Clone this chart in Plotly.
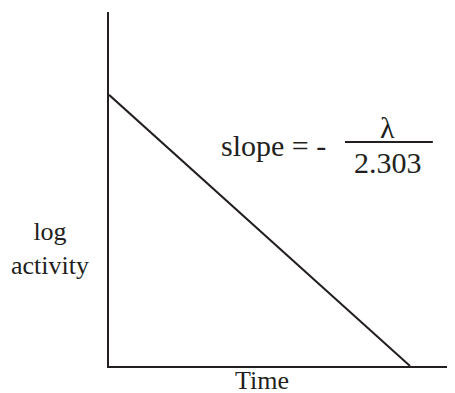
"""
log activity vs time: straight-line decay sketch
"""
import plotly.graph_objects as go

# data (arbitrary units)
time = [0.0, 8.7]
log_activity = [7.66, 0.0]

INK = "#231f20"
SERIF = "Liberation Serif, Times New Roman, serif"


def _font(size):
    return dict(family=SERIF, color=INK, size=size)


fig = go.Figure()
fig.add_trace(go.Scatter(
    x=time, y=log_activity, mode="lines",
    line=dict(color=INK, width=2), showlegend=False, hoverinfo="skip",
))

# slope label with a stacked fraction
fig.add_annotation(x=6.33, y=6.24, text="slope = -", xanchor="right",
                   yanchor="middle", showarrow=False, font=_font(30))
fig.add_annotation(x=8.06, y=6.75, text="λ", xanchor="center",
                   yanchor="middle", showarrow=False, font=_font(30))
fig.add_annotation(x=8.06, y=5.76, text="2.303", xanchor="center",
                   yanchor="middle", showarrow=False, font=_font(30))
fig.add_shape(type="line", x0=6.82, x1=9.36, y0=6.33, y1=6.33,
              line=dict(color=INK, width=2))

# axis titles
fig.add_annotation(x=(262 - 109) / 346, y=-0.042, xref="paper", yref="paper",
                   text="Time", xanchor="center", yanchor="middle",
                   showarrow=False, font=_font(26))
fig.add_annotation(x=-0.17, y=0.333, xref="paper", yref="paper",
                   text="log<br>activity", xanchor="center", yanchor="middle",
                   showarrow=False, font=_font(26))

# the page body adds an 8px margin, so the figure is a little smaller
fig.update_layout(
    width=447, height=385,
    margin=dict(l=101, r=0, t=4, b=27),
    paper_bgcolor="white", plot_bgcolor="white",
    xaxis=dict(range=[0, 10], showline=True, linecolor=INK, linewidth=2,
               showgrid=False, zeroline=False, showticklabels=False, ticks=""),
    yaxis=dict(range=[0, 10], showline=True, linecolor=INK, linewidth=2,
               showgrid=False, zeroline=False, showticklabels=False, ticks=""),
)

fig.write_html("out.html")
